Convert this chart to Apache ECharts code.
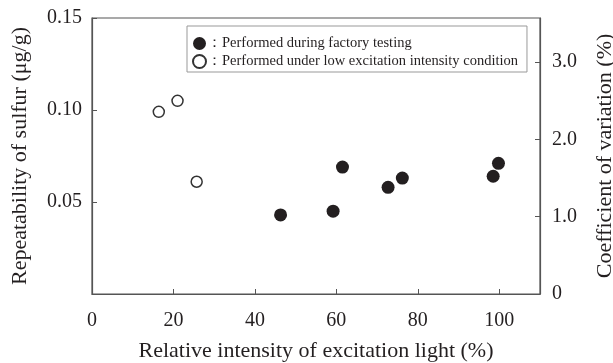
<!DOCTYPE html>
<html>
<head>
<meta charset="utf-8">
<script src="https://cdn.jsdelivr.net/npm/echarts@6/dist/echarts.min.js"></script>
<style>html,body{margin:0;padding:0;background:#fff;}#c{width:613px;height:363px;}</style>
</head>
<body>
<div id="c"></div>
<script>
// Data
const factoryIntensity = [46.3, 59.2, 61.5, 72.7, 76.2, 98.5, 99.8];
const factoryRepeatability = [0.043, 0.045, 0.069, 0.058, 0.063, 0.064, 0.071];
const lowIntensity = [16.4, 21.0, 25.7];
const lowRepeatability = [0.099, 0.105, 0.061];
const seriesNames = ['Performed during factory testing', 'Performed under low excitation intensity condition'];
const xTitle = 'Relative intensity of excitation light (%)';
const yLeftTitle = 'Repeatability of sulfur (\u03bcg/g)';
const yRightTitle = 'Coefficient of variation (%)';

const FONT = 'Liberation Serif';
const TXT = '#231f20';
const AX = '#555';

function pairs(xs, ys) { return xs.map((x, i) => [x, ys[i]]); }

const chart = echarts.init(document.getElementById('c'), null, {renderer: 'canvas'});
chart.setOption({
  animation: false,
  backgroundColor: '#fff',
  grid: {left: 92, right: 73, top: 18, bottom: 69, show: true, borderColor: AX, borderWidth: 1.2,
    containLabel: false, outerBoundsMode: 'none'},
  legend: {
    orient: 'vertical', left: 187, top: 26,
    data: seriesNames,
    icon: 'circle', itemWidth: 13, itemHeight: 13, itemGap: 3,
    borderColor: '#999', borderWidth: 1, padding: [10, 9, 3, 5],
    formatter: n => '\uff1a' + n,
    textStyle: {fontFamily: FONT, fontSize: 14.5, color: TXT, padding: [0,0,0,-4]}
  },
  xAxis: {
    type: 'value', min: 0, max: 110, interval: 20,
    name: xTitle, nameLocation: 'middle', nameGap: 46,
    nameTextStyle: {fontFamily: FONT, fontSize: 22, color: TXT},
    axisLine: {show: true, lineStyle: {color: AX, width: 1.2}},
    axisTick: {show: true, inside: true, length: 5, lineStyle: {color: AX}},
    axisLabel: {fontFamily: FONT, fontSize: 20, color: TXT, margin: 17, showMaxLabel: false},
    splitLine: {show: false}
  },
  yAxis: [{
    type: 'value', min: 0, max: 0.15, interval: 0.05, position: 'left',
    name: yLeftTitle, nameLocation: 'middle', nameGap: 61,
    nameTextStyle: {fontFamily: FONT, fontSize: 22, color: TXT},
    axisLine: {show: true, lineStyle: {color: AX, width: 1.2}},
    axisTick: {show: true, inside: true, length: 5, lineStyle: {color: AX}},
    axisLabel: {fontFamily: FONT, fontSize: 20, color: TXT, margin: 10,
      formatter: v => v === 0 ? '' : v.toFixed(2)},
    splitLine: {show: false}
  }, {
    type: 'value', min: 0, max: 3.57, interval: 1, position: 'right',
    name: yRightTitle, nameLocation: 'middle', nameGap: 54,
    nameTextStyle: {fontFamily: FONT, fontSize: 22, color: TXT},
    axisLine: {show: true, lineStyle: {color: AX, width: 1.2}},
    axisTick: {show: true, inside: true, length: 5, lineStyle: {color: AX}},
    axisLabel: {fontFamily: FONT, fontSize: 20, color: TXT, margin: 12, showMaxLabel: false,
      formatter: v => v === 0 ? '0' : v.toFixed(1)},
    splitLine: {show: false}
  }],
  series: [{
    name: seriesNames[0], type: 'scatter', yAxisIndex: 0,
    symbol: 'circle', symbolSize: 13,
    itemStyle: {color: '#231f20', opacity: 1},
    data: pairs(factoryIntensity, factoryRepeatability)
  }, {
    name: seriesNames[1], type: 'scatter', yAxisIndex: 0,
    symbol: 'circle', symbolSize: 11,
    itemStyle: {color: '#fff', borderColor: '#333', borderWidth: 1.5, opacity: 1},
    data: pairs(lowIntensity, lowRepeatability)
  }]
});
</script>
</body>
</html>
